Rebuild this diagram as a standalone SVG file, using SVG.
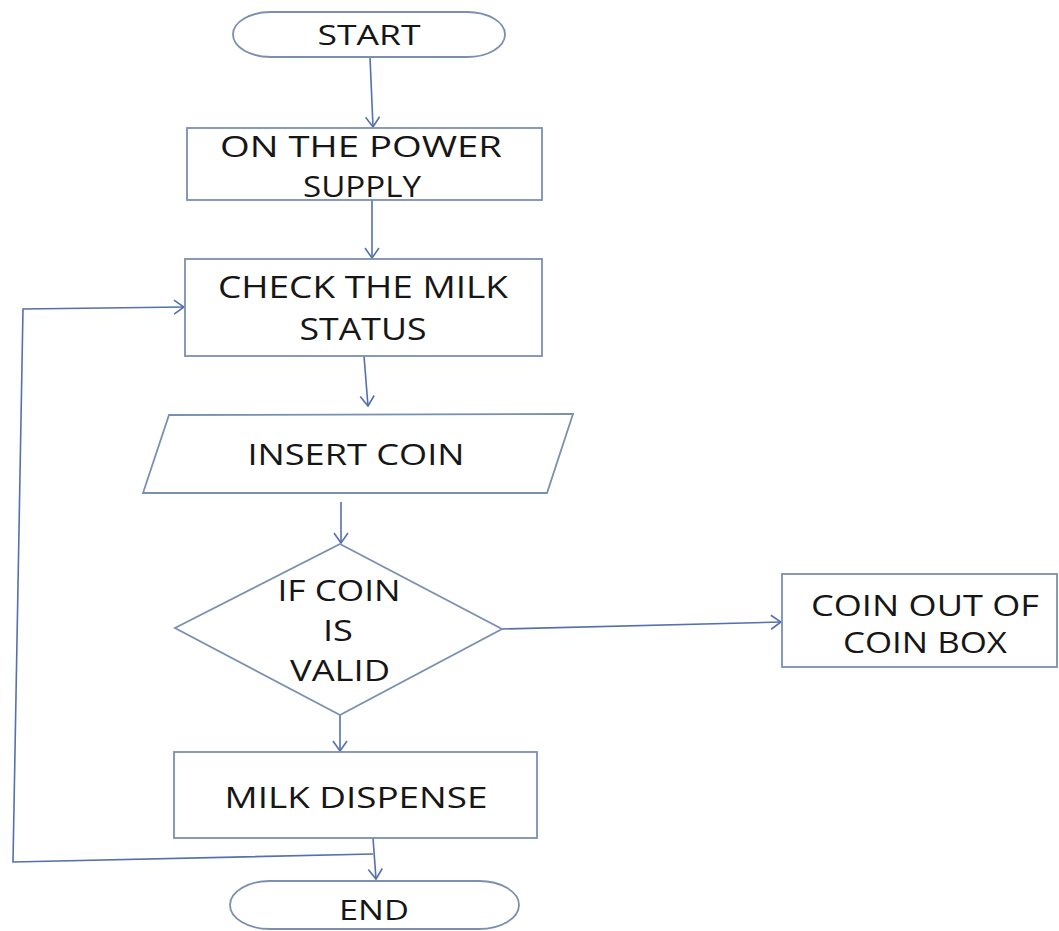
<svg xmlns="http://www.w3.org/2000/svg" width="1059" height="931" viewBox="0 0 1059 931">
<defs>
<marker id="arr" viewBox="0 0 12 16" refX="11" refY="8" markerWidth="12" markerHeight="16" markerUnits="userSpaceOnUse" orient="auto">
<path d="M1,1 L11,8 L1,15" fill="none" stroke="#5470ad" stroke-width="1.6"/>
</marker>
</defs>
<style>
.shape{fill:#ffffff;stroke:#7b8fb0;stroke-width:1.8}
.conn{fill:none;stroke:#5470ad;stroke-width:1.6}
text{font-family:"Open Sans","Liberation Sans",sans-serif;fill:#161616;text-anchor:middle}
</style>
<rect width="1059" height="931" fill="#ffffff"/>
<g id="connectors">
<path class="conn" d="M370,57 L373,127" marker-end="url(#arr)"/>
<path class="conn" d="M372,200 L372,258" marker-end="url(#arr)"/>
<path class="conn" d="M364,356 L368,406" marker-end="url(#arr)"/>
<path class="conn" d="M341,502 L341,543" marker-end="url(#arr)"/>
<path class="conn" d="M340,715 L340,751" marker-end="url(#arr)"/>
<path class="conn" d="M502,629 L781,622" marker-end="url(#arr)"/>
<path class="conn" d="M373,838 L376,879" marker-end="url(#arr)"/>
<path class="conn" d="M373,854 L13,862 L23,309 L184,307" marker-end="url(#arr)"/>
</g>
<g id="start">
<rect class="shape" x="233" y="12" width="272" height="45" rx="38" ry="22.5"/>
<text x="369" y="45" font-size="28" textLength="103" lengthAdjust="spacingAndGlyphs">START</text>
</g>
<g id="power">
<rect class="shape" x="187" y="128" width="355" height="72"/>
<text x="361" y="157" font-size="29" textLength="282" lengthAdjust="spacingAndGlyphs">ON THE POWER</text>
<text x="362" y="197" font-size="29" textLength="118" lengthAdjust="spacingAndGlyphs">SUPPLY</text>
</g>
<g id="check">
<rect class="shape" x="185" y="259" width="357" height="97"/>
<text x="363" y="298" font-size="31" textLength="290" lengthAdjust="spacingAndGlyphs">CHECK THE MILK</text>
<text x="363" y="340" font-size="31" textLength="127" lengthAdjust="spacingAndGlyphs">STATUS</text>
</g>
<g id="insert">
<polygon class="shape" points="169,415 573,414 547,493 143,493"/>
<text x="356" y="465" font-size="29" textLength="217" lengthAdjust="spacingAndGlyphs">INSERT COIN</text>
</g>
<g id="decision">
<polygon class="shape" points="340,544 502,629 340,715 175,628"/>
<text x="339" y="601" font-size="30" textLength="123" lengthAdjust="spacingAndGlyphs">IF COIN</text>
<text x="338" y="641" font-size="30" textLength="30" lengthAdjust="spacingAndGlyphs">IS</text>
<text x="340" y="681" font-size="30" textLength="100" lengthAdjust="spacingAndGlyphs">VALID</text>
</g>
<g id="coinout">
<rect class="shape" x="782" y="574" width="275" height="93"/>
<text x="925" y="616" font-size="30" textLength="228" lengthAdjust="spacingAndGlyphs">COIN OUT OF</text>
<text x="925" y="653" font-size="30" textLength="164" lengthAdjust="spacingAndGlyphs">COIN BOX</text>
</g>
<g id="dispense">
<rect class="shape" x="174" y="752" width="363" height="86"/>
<text x="356" y="808" font-size="30" textLength="263" lengthAdjust="spacingAndGlyphs">MILK DISPENSE</text>
</g>
<g id="end">
<rect class="shape" x="230" y="881" width="289" height="48" rx="40" ry="24"/>
<text x="374" y="920" font-size="28" textLength="70" lengthAdjust="spacingAndGlyphs">END</text>
</g>
</svg>
